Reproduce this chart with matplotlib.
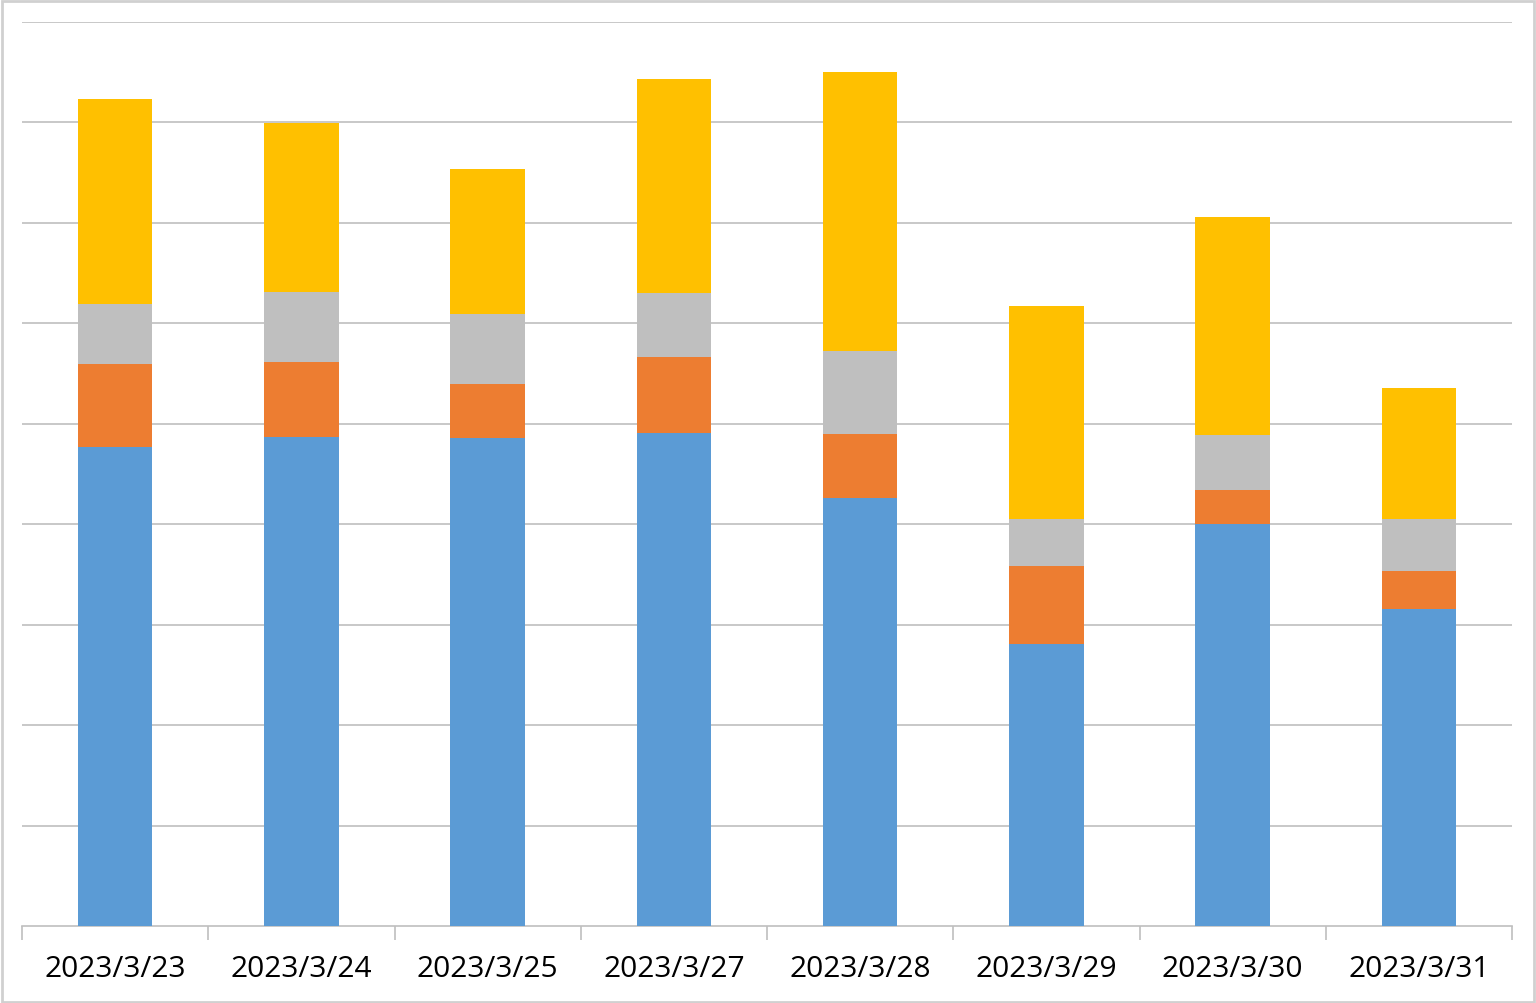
import matplotlib.pyplot as plt
import numpy as np
from matplotlib.patches import Rectangle

# dates on the x axis
dates = ['2023/3/23', '2023/3/24', '2023/3/25', '2023/3/27',
         '2023/3/28', '2023/3/29', '2023/3/30', '2023/3/31']
# stacked series, bottom to top (grid units)
blue = [4.77, 4.87, 4.86, 4.91, 4.26, 2.81, 4.00, 3.16]
orange = [0.83, 0.75, 0.54, 0.75, 0.64, 0.77, 0.34, 0.37]
gray = [0.59, 0.69, 0.69, 0.64, 0.82, 0.47, 0.55, 0.52]
yellow = [2.04, 1.68, 1.45, 2.13, 2.78, 2.12, 2.17, 1.31]

colours = ['#5B9BD5', '#ED7D31', '#BFBFBF', '#FFC000']

fig = plt.figure(figsize=(15.36, 10.04), dpi=100)
ax = fig.add_axes([22/1536, 1 - 927/1004, 1490/1536, 904/1004])

x = np.arange(len(dates))
bottom = np.zeros(len(dates))
for vals, c in zip([blue, orange, gray, yellow], colours):
    ax.bar(x, vals, width=0.4, bottom=bottom, color=c, zorder=3)
    bottom += np.array(vals)

ax.set_xlim(-0.5, len(dates) - 0.5)
ax.set_ylim(0, 9)
ax.set_yticks(np.arange(1, 10))
ax.yaxis.grid(True, color='#BFBFBF', linewidth=1.2, zorder=0)
ax.tick_params(axis='y', left=False, labelleft=False)

# category labels, tick marks at the boundaries
ax.set_xticks(x)
ax.set_xticklabels(dates, fontsize=21.5, fontfamily='Open Sans')
ax.tick_params(axis='x', length=0, pad=20)
ax.set_xticks(np.arange(-0.5, len(dates)), minor=True)
ax.tick_params(axis='x', which='minor', length=10, width=1.2, color='#BFBFBF')

for s in ['top', 'right', 'left']:
    ax.spines[s].set_visible(False)
ax.spines['bottom'].set_color('#BFBFBF')
ax.spines['bottom'].set_linewidth(1.2)

# light frame around the whole figure
fig.patches.append(Rectangle((0.001, 0.001), 0.998, 0.997, transform=fig.transFigure,
                             fill=False, edgecolor='#D0D0D0', linewidth=2))

fig.savefig('out.png', dpi=100)
